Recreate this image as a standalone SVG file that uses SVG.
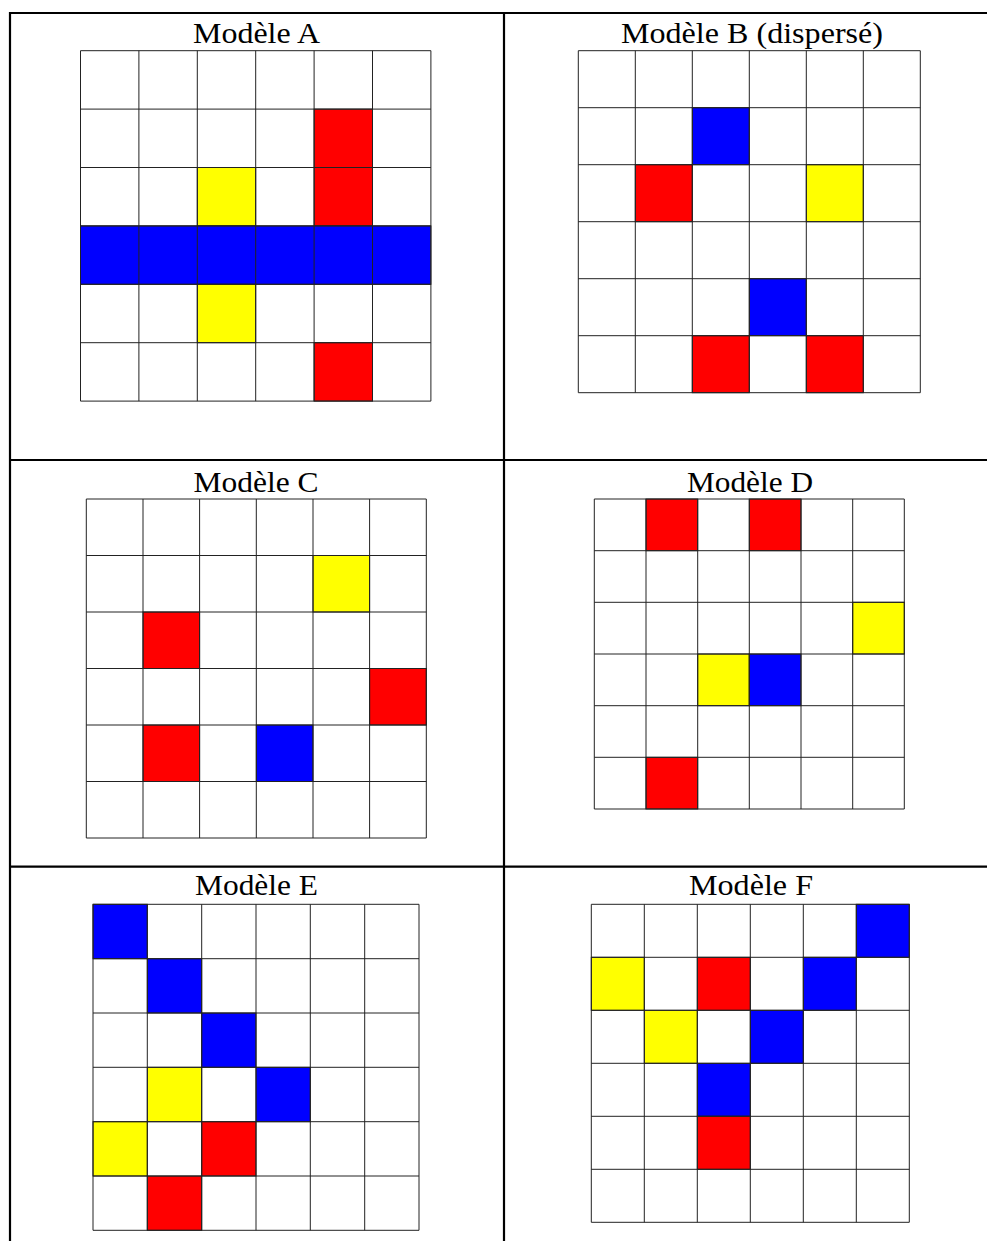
<svg xmlns="http://www.w3.org/2000/svg" width="987" height="1241" viewBox="0 0 987 1241">
<style>
.t{font-family:"Liberation Serif","Times New Roman",serif;font-size:29px;fill:#000;text-anchor:middle}
.g{fill:none;stroke:#222;stroke-width:1}
.bg{fill:#fff}
.r{fill:#ff0000;stroke:#222;stroke-width:1}
.y{fill:#ffff00;stroke:#222;stroke-width:1}
.b{fill:#0000ff;stroke:#222;stroke-width:1}
.tbl{stroke:#000;stroke-width:2.2;fill:none}
</style>
<rect width="987" height="1241" fill="#fff"/>
<g id="table" class="tbl">
<path d="M9 13H987M10 12V1241M504 12V1241M9 460H987M9 866.7H987"/>
</g>
<g id="modele-a">
<text class="t" x="256.5" y="43" textLength="127" lengthAdjust="spacingAndGlyphs">Modèle A</text>
<rect class="bg" x="80.5" y="50.7" width="350.4" height="350.4"/>
<rect class="r" x="314.1" y="109.1" width="58.4" height="58.4"/>
<rect class="y" x="197.3" y="167.5" width="58.4" height="58.4"/>
<rect class="r" x="314.1" y="167.5" width="58.4" height="58.4"/>
<rect class="b" x="80.5" y="225.9" width="350.4" height="58.4"/>
<rect class="y" x="197.3" y="284.3" width="58.4" height="58.4"/>
<rect class="r" x="314.1" y="342.7" width="58.4" height="58.4"/>
<path class="g" d="M80.5 50.7V401.1M138.9 50.7V401.1M197.3 50.7V401.1M255.7 50.7V401.1M314.1 50.7V401.1M372.5 50.7V401.1M430.9 50.7V401.1M80.5 50.7H430.9M80.5 109.1H430.9M80.5 167.5H430.9M80.5 225.9H430.9M80.5 284.3H430.9M80.5 342.7H430.9M80.5 401.1H430.9"/>
</g>
<g id="modele-b">
<text class="t" x="752" y="43" textLength="262" lengthAdjust="spacingAndGlyphs">Modèle B (dispersé)</text>
<rect class="bg" x="578.3" y="50.7" width="342" height="342"/>
<rect class="b" x="692.3" y="107.7" width="57" height="57"/>
<rect class="r" x="635.3" y="164.7" width="57" height="57"/>
<rect class="y" x="806.3" y="164.7" width="57" height="57"/>
<rect class="b" x="749.3" y="278.7" width="57" height="57"/>
<rect class="r" x="692.3" y="335.7" width="57" height="57"/>
<rect class="r" x="806.3" y="335.7" width="57" height="57"/>
<path class="g" d="M578.3 50.7V392.7M635.3 50.7V392.7M692.3 50.7V392.7M749.3 50.7V392.7M806.3 50.7V392.7M863.3 50.7V392.7M920.3 50.7V392.7M578.3 50.7H920.3M578.3 107.7H920.3M578.3 164.7H920.3M578.3 221.7H920.3M578.3 278.7H920.3M578.3 335.7H920.3M578.3 392.7H920.3"/>
</g>
<g id="modele-c">
<text class="t" x="256" y="491.7" textLength="125" lengthAdjust="spacingAndGlyphs">Modèle C</text>
<rect class="bg" x="86.3" y="499" width="340" height="339"/>
<rect class="y" x="313" y="555.5" width="56.6" height="56.5"/>
<rect class="r" x="143" y="612" width="56.6" height="56.5"/>
<rect class="r" x="369.6" y="668.5" width="56.7" height="56.5"/>
<rect class="r" x="143" y="725" width="56.6" height="56.5"/>
<rect class="b" x="256.3" y="725" width="56.7" height="56.5"/>
<path class="g" d="M86.3 499V838M143 499V838M199.6 499V838M256.3 499V838M313 499V838M369.6 499V838M426.3 499V838M86.3 499H426.3M86.3 555.5H426.3M86.3 612H426.3M86.3 668.5H426.3M86.3 725H426.3M86.3 781.5H426.3M86.3 838H426.3"/>
</g>
<g id="modele-d">
<text class="t" x="750" y="491.7" textLength="126" lengthAdjust="spacingAndGlyphs">Modèle D</text>
<rect class="bg" x="594.3" y="499" width="310" height="310"/>
<rect class="r" x="646" y="499" width="51.7" height="51.7"/>
<rect class="r" x="749.3" y="499" width="51.7" height="51.7"/>
<rect class="y" x="852.7" y="602.3" width="51.6" height="51.7"/>
<rect class="y" x="697.7" y="654" width="51.6" height="51.7"/>
<rect class="b" x="749.3" y="654" width="51.7" height="51.7"/>
<rect class="r" x="646" y="757.3" width="51.7" height="51.7"/>
<path class="g" d="M594.3 499V809M646 499V809M697.7 499V809M749.3 499V809M801 499V809M852.7 499V809M904.3 499V809M594.3 499H904.3M594.3 550.7H904.3M594.3 602.3H904.3M594.3 654H904.3M594.3 705.7H904.3M594.3 757.3H904.3M594.3 809H904.3"/>
</g>
<g id="modele-e">
<text class="t" x="256.5" y="895" textLength="123" lengthAdjust="spacingAndGlyphs">Modèle E</text>
<rect class="bg" x="93" y="904.3" width="326" height="326"/>
<rect class="b" x="93" y="904.3" width="54.3" height="54.4"/>
<rect class="b" x="147.3" y="958.7" width="54.4" height="54.3"/>
<rect class="b" x="201.7" y="1013" width="54.3" height="54.3"/>
<rect class="y" x="147.3" y="1067.3" width="54.4" height="54.4"/>
<rect class="b" x="256" y="1067.3" width="54.3" height="54.4"/>
<rect class="y" x="93" y="1121.7" width="54.3" height="54.3"/>
<rect class="r" x="201.7" y="1121.7" width="54.3" height="54.3"/>
<rect class="r" x="147.3" y="1176" width="54.4" height="54.3"/>
<path class="g" d="M93 904.3V1230.3M147.3 904.3V1230.3M201.7 904.3V1230.3M256 904.3V1230.3M310.3 904.3V1230.3M364.7 904.3V1230.3M419 904.3V1230.3M93 904.3H419M93 958.7H419M93 1013H419M93 1067.3H419M93 1121.7H419M93 1176H419M93 1230.3H419"/>
</g>
<g id="modele-f">
<text class="t" x="751" y="895" textLength="124" lengthAdjust="spacingAndGlyphs">Modèle F</text>
<rect class="bg" x="591.3" y="904.3" width="318" height="318"/>
<rect class="b" x="856.3" y="904.3" width="53" height="53"/>
<rect class="y" x="591.3" y="957.3" width="53" height="53"/>
<rect class="r" x="697.3" y="957.3" width="53" height="53"/>
<rect class="b" x="803.3" y="957.3" width="53" height="53"/>
<rect class="y" x="644.3" y="1010.3" width="53" height="53"/>
<rect class="b" x="750.3" y="1010.3" width="53" height="53"/>
<rect class="b" x="697.3" y="1063.3" width="53" height="53"/>
<rect class="r" x="697.3" y="1116.3" width="53" height="53"/>
<path class="g" d="M591.3 904.3V1222.3M644.3 904.3V1222.3M697.3 904.3V1222.3M750.3 904.3V1222.3M803.3 904.3V1222.3M856.3 904.3V1222.3M909.3 904.3V1222.3M591.3 904.3H909.3M591.3 957.3H909.3M591.3 1010.3H909.3M591.3 1063.3H909.3M591.3 1116.3H909.3M591.3 1169.3H909.3M591.3 1222.3H909.3"/>
</g>
</svg>
